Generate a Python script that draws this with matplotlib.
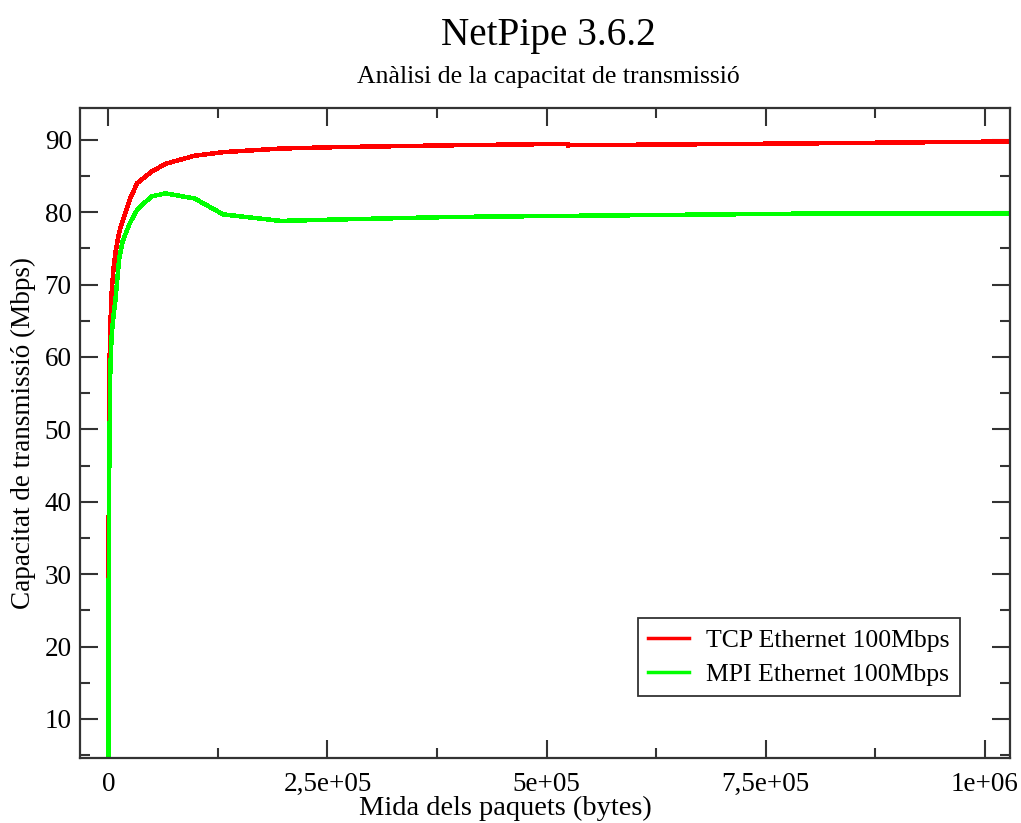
import matplotlib
matplotlib.use("Agg")
import matplotlib.pyplot as plt
from matplotlib.ticker import MultipleLocator, FuncFormatter

# ---- data (message size in bytes, throughput in Mbps) ----
tcp_sizes = [1, 2, 4, 8, 16, 32, 64, 128, 256, 512, 768, 1024, 1536, 2048, 3072,
             4096, 6144, 8192, 12288, 16384, 24576, 32768, 49152, 65536, 98304,
             131072, 196608, 262144, 393216, 524285, 524288, 786432, 1048576]
tcp_mbps = [0.13, 0.26, 0.52, 1.0, 2.0, 4.0, 7.8, 14.8, 26, 40, 48, 54, 60, 63, 67,
            69.5, 72.5, 74.5, 77.2, 78.8, 81.8, 84.0, 85.6, 86.7, 87.8,
            88.3, 88.8, 89.0, 89.25, 89.45, 89.25, 89.5, 89.8]

mpi_sizes = [1, 2, 4, 8, 16, 32, 64, 128, 256, 512, 1024, 1536, 2048, 3072,
             4096, 6144, 8192, 12288, 16384, 24576, 32768, 49152, 65536, 98304,
             131072, 196608, 262144, 393216, 524288, 786432, 1048576]
mpi_mbps = [0.1, 0.2, 0.4, 0.8, 1.5, 3.0, 5.8, 11, 19, 31, 44, 50, 57, 61,
            63.5, 66, 68, 73.5, 76, 78.5, 80.3, 82.2, 82.6, 81.9,
            79.7, 78.8, 79.0, 79.35, 79.5, 79.8, 79.85]

series_labels = ["TCP Ethernet 100Mbps", "MPI Ethernet 100Mbps"]
title = "NetPipe 3.6.2"
subtitle = "Anàlisi de la capacitat de transmissió"
xlabel = "Mida dels paquets (bytes)"
ylabel = "Capacitat de transmissió (Mbps)"

plt.rcParams['font.family'] = ['Liberation Serif', 'DejaVu Serif']

W, H = 1021, 823
fig = plt.figure(figsize=(W / 100, H / 100), dpi=100)
ax = fig.add_axes([80 / W, (H - 758) / H, (1010 - 80) / W, (758 - 108) / H])

ax.plot(tcp_sizes, tcp_mbps, color='#ff0000', lw=2.5, label=series_labels[0],
        solid_joinstyle='miter', antialiased=False)
ax.plot(mpi_sizes, mpi_mbps, color='#00ff00', lw=2.5, label=series_labels[1],
        solid_joinstyle='miter', antialiased=False)

ax.set_xlim(-32300, 1.0285e6)
ax.set_ylim(4.6, 94.4)

ax.xaxis.set_major_locator(MultipleLocator(250000))
ax.xaxis.set_minor_locator(MultipleLocator(125000))
ax.yaxis.set_major_locator(MultipleLocator(10))
ax.yaxis.set_minor_locator(MultipleLocator(5))


def xfmt(v, pos):
    if abs(v) < 1e-9:
        return "0"
    e = len(str(int(round(v)))) - 1
    m = v / 10 ** e
    ms = ("%g" % m).replace('.', ',')
    return "%se+%02d" % (ms, e)


ax.xaxis.set_major_formatter(FuncFormatter(xfmt))
ax.yaxis.set_major_formatter(FuncFormatter(lambda v, p: "%d" % v))

ax.tick_params(which='both', direction='in', top=True, right=True,
               color='#333333', width=1.5, labelsize=19.5, labelcolor='black')
ax.tick_params(which='major', length=13)
ax.tick_params(which='minor', length=7)
ax.tick_params(axis='x', which='major', pad=10)
ax.tick_params(axis='y', which='major', pad=6)
for sp in ax.spines.values():
    sp.set_linewidth(1.6)
    sp.set_color('#333333')

fig.text(505 / W, 1 - 808 / H, xlabel, ha='center', va='center', fontsize=20.5)
ax.set_ylabel(ylabel, fontsize=19.5, labelpad=6)

fig.text(548 / W, 1 - 35 / H, title, ha='center', va='center', fontsize=28.3)
fig.text(548 / W, 1 - 77 / H, subtitle, ha='center', va='center', fontsize=18.5)

leg = ax.legend(loc='upper left', bbox_to_anchor=(0.6, 0.215), fontsize=18.5,
                frameon=True, fancybox=False, shadow=False, borderpad=0.4,
                handlelength=1.6, handletextpad=0.65, labelspacing=0.45,
                borderaxespad=0)
leg.get_frame().set_edgecolor('black')
leg.get_frame().set_linewidth(1.3)
for ln in leg.get_lines():
    ln.set_linewidth(2.5)

fig.savefig("out.png", dpi=100)
